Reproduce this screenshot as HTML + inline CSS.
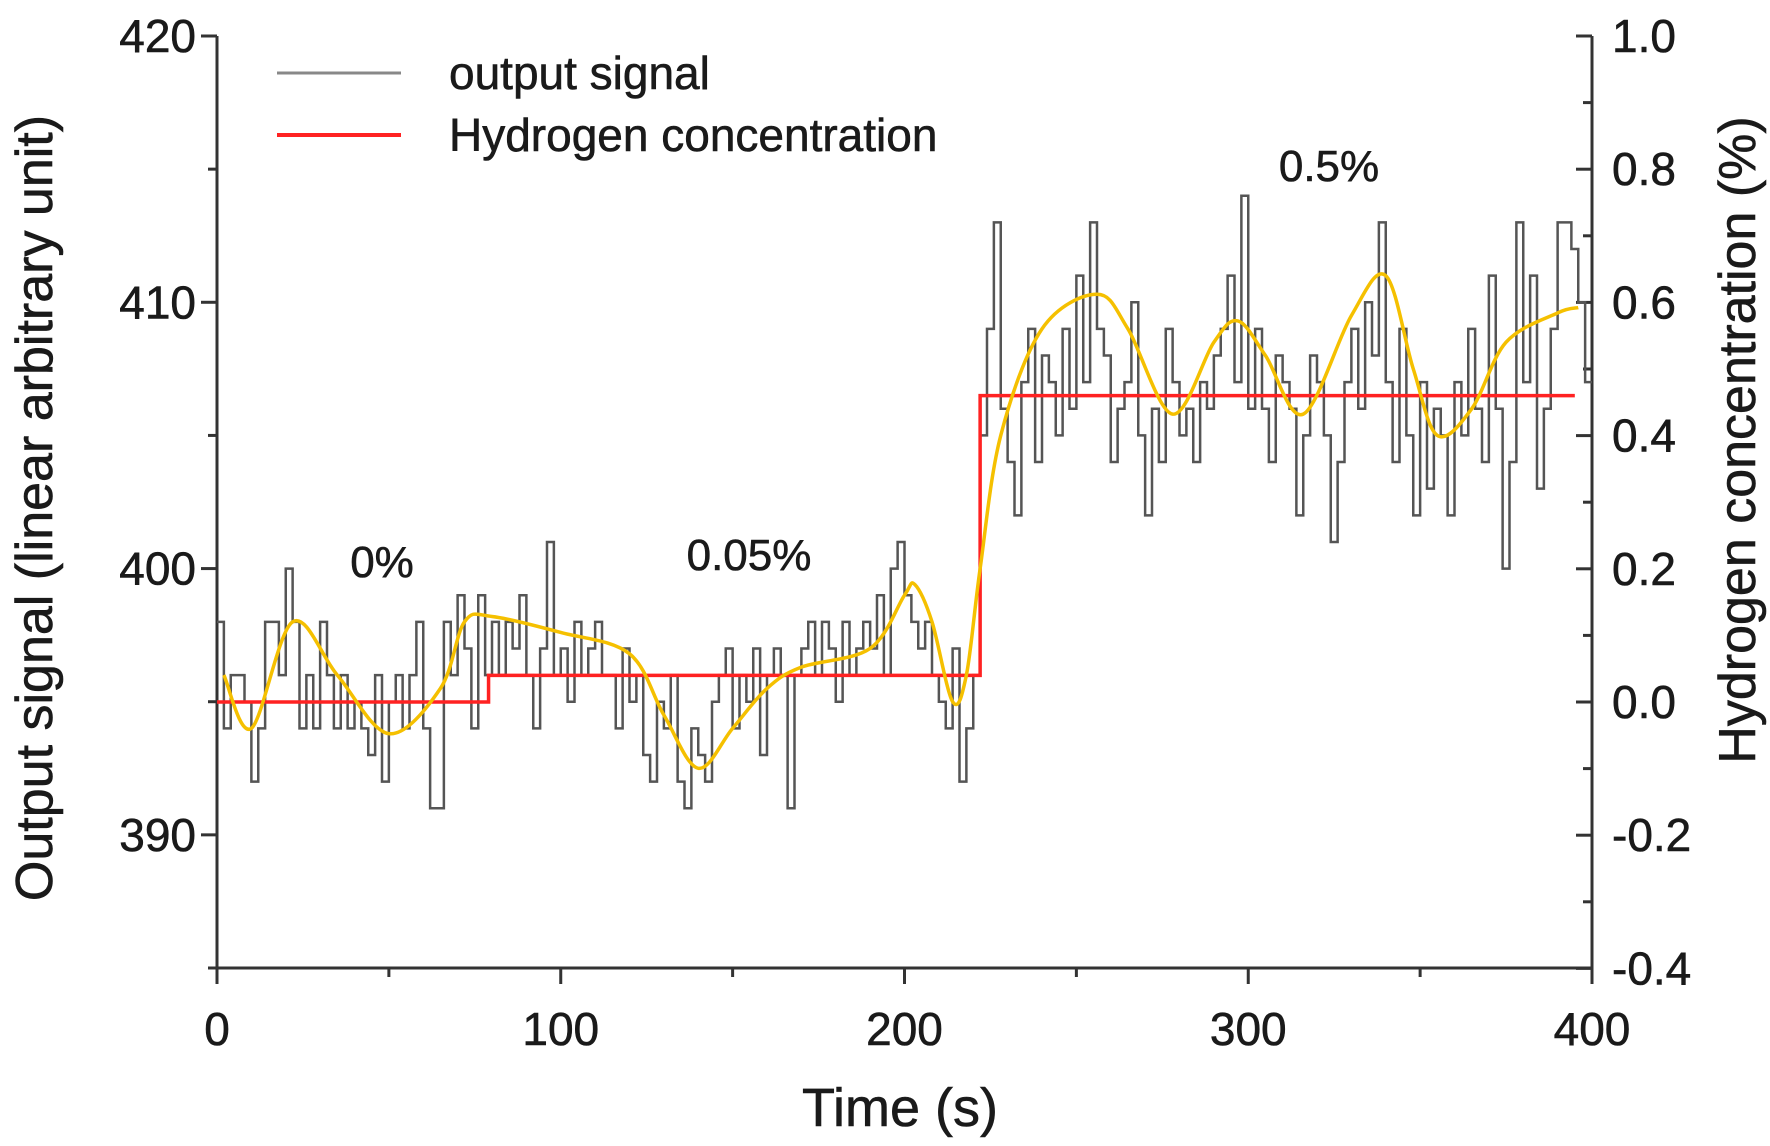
<!DOCTYPE html>
<html><head><meta charset="utf-8"><style>
body{margin:0;background:#fff;}
svg text{font-family:"Liberation Sans",sans-serif;fill:#1a1a1a;stroke:#1a1a1a;stroke-width:0.6px;}
</style></head><body>
<svg id="chart" width="1770" height="1141" viewBox="0 0 1770 1141" xmlns="http://www.w3.org/2000/svg">
<g id="axes"></g>
<g id="marks"></g>
<g>
 <line x1="277" y1="73" x2="401" y2="73" stroke="#888" stroke-width="3"/>
 <text x="449" y="89" font-size="46">output signal</text>
 <line x1="277" y1="135" x2="401" y2="135" stroke="#f22" stroke-width="4"/>
 <text x="449" y="151" font-size="46">Hydrogen concentration</text>
</g>
<text x="382" y="577" font-size="44" text-anchor="middle">0%</text>
<text x="749" y="570" font-size="44" text-anchor="middle">0.05%</text>
<text x="1329" y="181" font-size="44" text-anchor="middle">0.5%</text>
<text x="900" y="1126" font-size="54" text-anchor="middle">Time (s)</text>
<text transform="translate(52,508) rotate(-90)" font-size="52" text-anchor="middle">Output signal (linear arbitrary unit)</text>
<text transform="translate(1755,440) rotate(-90)" font-size="52" text-anchor="middle">Hydrogen concentration (%)</text>
</svg>
<script>
const signal=[398,394,396,396,395,392,394,398,398,396,400,398,394,396,394,398,396,394,396,394,395,394,393,396,392,395,396,394,396,398,394,391,391,398,396,399,397,394,399,396,398,396,398,397,399,396,394,397,401,396,397,395,398,396,397,398,396,396,394,397,395,396,393,392,395,394,396,392,391,394,393,392,395,396,397,394,396,395,397,393,396,397,396,391,396,397,398,396,398,397,395,398,396,397,398,397,399,396,400,401,399,398,397,398,396,395,394,397,392,394,396,405,409,413,406,404,402,407,409,404,408,407,405,409,406,411,407,413,409,408,404,406,407,410,405,402,406,404,409,407,405,406,404,407,406,408,409,411,407,414,406,409,406,404,408,407,406,402,405,408,407,405,401,404,407,409,406,410,408,413,407,404,409,405,402,407,403,406,405,402,407,405,409,406,404,411,406,400,404,413,407,411,403,406,409,413,413,412,410,407];
const signalStep=2;
const fitT=[2,10,22,35,50,65,72,80,100,120,130,140,150,160,170,190,200,203,208,214,218,222,228,240,256,265,278,290,297,305,316,330,340,348,355,365,375,390,396];
const fitV=[396,394,398,396,393.8,395.5,398,398.2,397.6,396.8,394.5,392.5,394,395.5,396.3,397,399,399.4,398,395,396,400,405,409,410.3,409,405.8,408.5,409.3,408,405.8,409.5,411,407.5,405,406,408.5,409.6,409.8];
const concT=[0,79,79,222,222,395];
const concV=[0,0,0.04,0.04,0.46,0.46];
const xTicks=[0,100,200,300,400];
const yLeftTicks=[390,400,410,420];
const yRightTicks=[-0.4,-0.2,0.0,0.2,0.4,0.6,0.8,1.0];

const X=t=>217+t*(1592-217)/400;
const YL=v=>36+(420-v)*(968-36)/35;
const YR=v=>36+(1-v)*(702-36);
const NS='http://www.w3.org/2000/svg';
function mk(tag,attrs,parent){const e=document.createElementNS(NS,tag);for(const k in attrs)e.setAttribute(k,attrs[k]);parent.appendChild(e);return e;}
const axes=document.getElementById('axes'),marks=document.getElementById('marks');
let l=mk('line',{x1:217,y1:36,x2:217,y2:968,stroke:'#333','stroke-width':3},axes);


l=mk('line',{x1:1592,y1:36,x2:1592,y2:968,stroke:'#333','stroke-width':3},axes);


l=mk('line',{x1:208,y1:968,x2:1592,y2:968,stroke:'#333','stroke-width':3},axes);


for(let t=0;t<=400;t+=50){const maj=t%100===0;const e=mk('line',{x1:X(t),x2:X(t),y1:968,y2:968+(maj?16:9),stroke:'#333','stroke-width':3},axes);

}
xTicks.forEach(t=>{const e=mk('text',{x:X(t),y:1045,'font-size':46,'text-anchor':'middle'},axes);e.textContent=t;

});
for(let v=385;v<=420;v+=5){const maj=v%10===0;const e=mk('line',{x1:217-(maj?16:9),x2:217,y1:YL(v),y2:YL(v),stroke:'#333','stroke-width':3},axes);

}
yLeftTicks.forEach(v=>{const e=mk('text',{x:196,y:YL(v)+16,'font-size':46,'text-anchor':'end'},axes);e.textContent=v;

});
for(let i=-4;i<=10;i++){const v=i/10;const maj=i%2===0;const e=mk('line',{x1:1592-(maj?16:9),x2:1592,y1:YR(v),y2:YR(v),stroke:'#333','stroke-width':3},axes);

}
yRightTicks.forEach(v=>{const e=mk('text',{x:1612,y:YR(v)+16,'font-size':46},axes);e.textContent=v.toFixed(1);

});
let d='';signal.forEach((v,i)=>{const x=X(i*signalStep),y=YL(v);d+=(i?`H${x}V${y}`:`M${x},${y}`);});
d+=`H${X(signal.length*signalStep)}`;
let p=mk('path',{d:d,fill:'none',stroke:'#555','stroke-width':2.5},marks);


d='';concT.forEach((t,i)=>{d+=(i?'L':'M')+X(t)+','+YR(concV[i]);});
p=mk('path',{d:d,fill:'none',stroke:'#f22','stroke-width':3.5},marks);


const pts=fitT.map((t,i)=>[X(t),YL(fitV[i])]);
d=`M${pts[0][0]},${pts[0][1]}`;
for(let i=0;i<pts.length-1;i++){const p0=pts[Math.max(0,i-1)],p1=pts[i],p2=pts[i+1],p3=pts[Math.min(pts.length-1,i+2)];
d+=`C${p1[0]+(p2[0]-p0[0])/6},${p1[1]+(p2[1]-p0[1])/6} ${p2[0]-(p3[0]-p1[0])/6},${p2[1]-(p3[1]-p1[1])/6} ${p2[0]},${p2[1]}`;}
p=mk('path',{d:d,fill:'none',stroke:'#f5c000','stroke-width':3.5},marks);


</script>
</body></html>
